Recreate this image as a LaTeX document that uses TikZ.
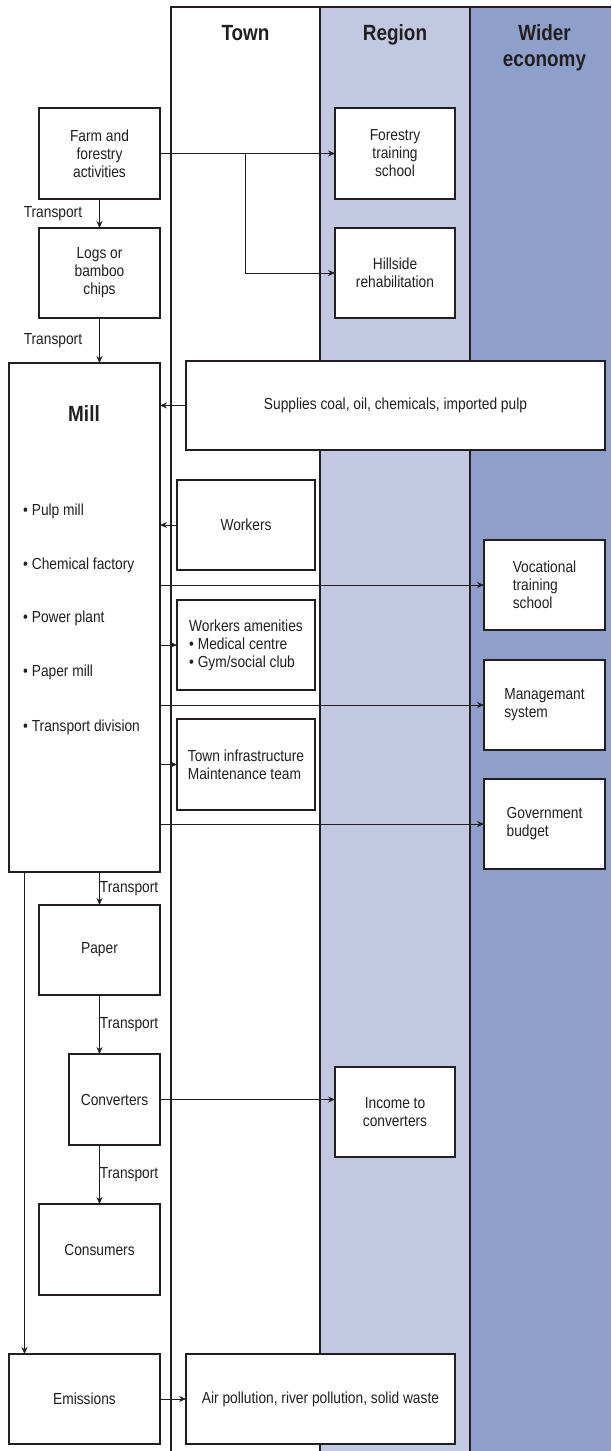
\documentclass[tikz,border=0pt]{standalone}
\usepackage{fontspec}
\setmainfont{Liberation Sans}[FakeStretch=0.86]
\usepackage{tikz}
\usetikzlibrary{arrows.meta, calc, positioning}
\tikzset{>={Stealth[length=7pt,width=6pt]}}
\definecolor{myink}{HTML}{231F20}
\definecolor{regionblue}{HTML}{C2C7E2}
\definecolor{widerblue}{HTML}{8E9FCB}
\tikzset{
	blok/.style={draw=myink, line width=1.4pt, fill=white, inner sep=2pt, outer sep=0pt, align=center, font=\fontsize{16}{18}\selectfont, text=myink},
	colline/.style={draw=myink, line width=1.4pt},
	conn/.style={->, draw=myink, line width=0.75pt},
	head/.style={font=\fontsize{22}{26}\selectfont\bfseries, text=myink, align=center},
	trlabel/.style={font=\fontsize{16}{18}\selectfont, text=myink, inner sep=0pt},
	millitem/.style={anchor=west, font=\fontsize{16}{18}\selectfont, text=myink, inner sep=0pt}
}

\begin{document}
\begin{tikzpicture}[x=1pt,y=-1pt]
			\useasboundingbox (0,0) rectangle (611,1451);
			\fill[regionblue] (320,7) rectangle (470,1451);
			\fill[widerblue] (470,7) rectangle (611,1451);
			\draw[colline] (171,1451) -- (171,7) -- (611,7);
			\draw[colline] (320,7) -- (320,1451);
			\draw[colline] (470,7) -- (470,1451);
			\node[head, anchor=base] (town) at (245.5,40.7) {Town};
			\node[head, anchor=base] (region) at (395,40.7) {Region};
			\node[head] (wider) at (544.5,48) {Wider\\economy};
			\node[blok, minimum width=121pt, minimum height=91pt] (farm) at (99.5,153.5) {Farm and\\forestry\\activities};
			\node[blok, minimum width=121pt, minimum height=90pt] (logs) at (99.5,273) {Logs or\\bamboo\\chips};
			\node[blok, minimum width=120pt, minimum height=91pt] (forest) at (395,153.5) {Forestry\\training\\school};
			\node[blok, minimum width=120pt, minimum height=90pt] (hill) at (395,273) {Hillside\\rehabilitation};
			\node[blok, minimum width=151pt, minimum height=509pt] (mill) at (84.5,617.5) {};
			\node[head, anchor=base] (millhead) at (84,421) {Mill};
			\foreach \y/\t in {511/Pulp mill, 565/Chemical factory, 618/Power plant, 672/Paper mill, 727/Transport division}
				\node[millitem] (item\y) at (23,\y) {\textbullet\ \t};
			\node[blok, minimum width=419pt, minimum height=89pt] (supplies) at (395.5,405.5) {Supplies coal, oil, chemicals, imported pulp};
			\node[blok, minimum width=138pt, minimum height=90pt] (workers) at (246,525) {Workers};
			\node[blok, minimum width=121pt, minimum height=90pt, align=left] (voc) at (544.5,585) {Vocational\\training\\school};
			\node[blok, minimum width=138pt, minimum height=90pt, align=left] (amen) at (246,645) {Workers amenities\\\textbullet\ Medical centre\\\textbullet\ Gym/social club};
			\node[blok, minimum width=121pt, minimum height=90pt, align=left] (mgmt) at (544.5,705) {Managemant\\system};
			\node[blok, minimum width=138pt, minimum height=91pt, align=left] (infra) at (246,764.5) {Town infrastructure\\Maintenance team};
			\node[blok, minimum width=121pt, minimum height=90pt, align=left] (gov) at (544.5,824) {Government\\budget};
			\node[blok, minimum width=121pt, minimum height=90pt] (paper) at (99.5,950) {Paper};
			\node[blok, minimum width=91pt, minimum height=91pt] (conv) at (114.5,1099.5) {Converters};
			\node[blok, minimum width=120pt, minimum height=90pt] (income) at (395,1112) {Income to\\converters};
			\node[blok, minimum width=121pt, minimum height=91pt] (cons) at (99.5,1249.5) {Consumers};
			\node[blok, minimum width=151pt, minimum height=90pt] (emis) at (84.5,1399) {Emissions};
			\node[blok, minimum width=269pt, minimum height=90pt] (air) at (320.5,1399) {Air pollution, river pollution, solid waste};
			\coordinate (split) at (245,153.5);
			\draw[conn] (farm.east) -- (forest.west);
			\draw[conn] (split) |- (hill.west);
			\draw[conn] (farm.south) -- node[trlabel, anchor=east, xshift=-17pt]{Transport} (logs.north);
			\draw[conn] (logs.south) -- node[trlabel, anchor=east, xshift=-17pt]{Transport} (logs.south |- mill.north);
			\draw[conn] (supplies.west) -- (supplies.west -| mill.east);
			\draw[conn] (workers.west) -- (workers.west -| mill.east);
			\draw[conn] (voc.west -| mill.east) -- (voc.west);
			\draw[conn] (amen.west -| mill.east) -- (amen.west);
			\draw[conn] (mgmt.west -| mill.east) -- (mgmt.west);
			\draw[conn] (infra.west -| mill.east) -- (infra.west);
			\draw[conn] (gov.west -| mill.east) -- (gov.west);
			\draw[conn] (paper.north |- mill.south) -- node[trlabel, anchor=west]{Transport} (paper.north);
			\draw[conn] (paper.south) -- node[trlabel, anchor=west]{Transport} (paper.south |- conv.north);
			\draw[conn] (cons.north |- conv.south) -- node[trlabel, anchor=west]{Transport} (cons.north);
			\draw[conn] (conv.east) -- (conv.east -| income.west);
			\draw[conn] ([xshift=15.5pt]mill.south west) -- ([xshift=15.5pt]emis.north west);
			\draw[conn] (emis.east) -- (air.west);
		\end{tikzpicture}
\end{document}
